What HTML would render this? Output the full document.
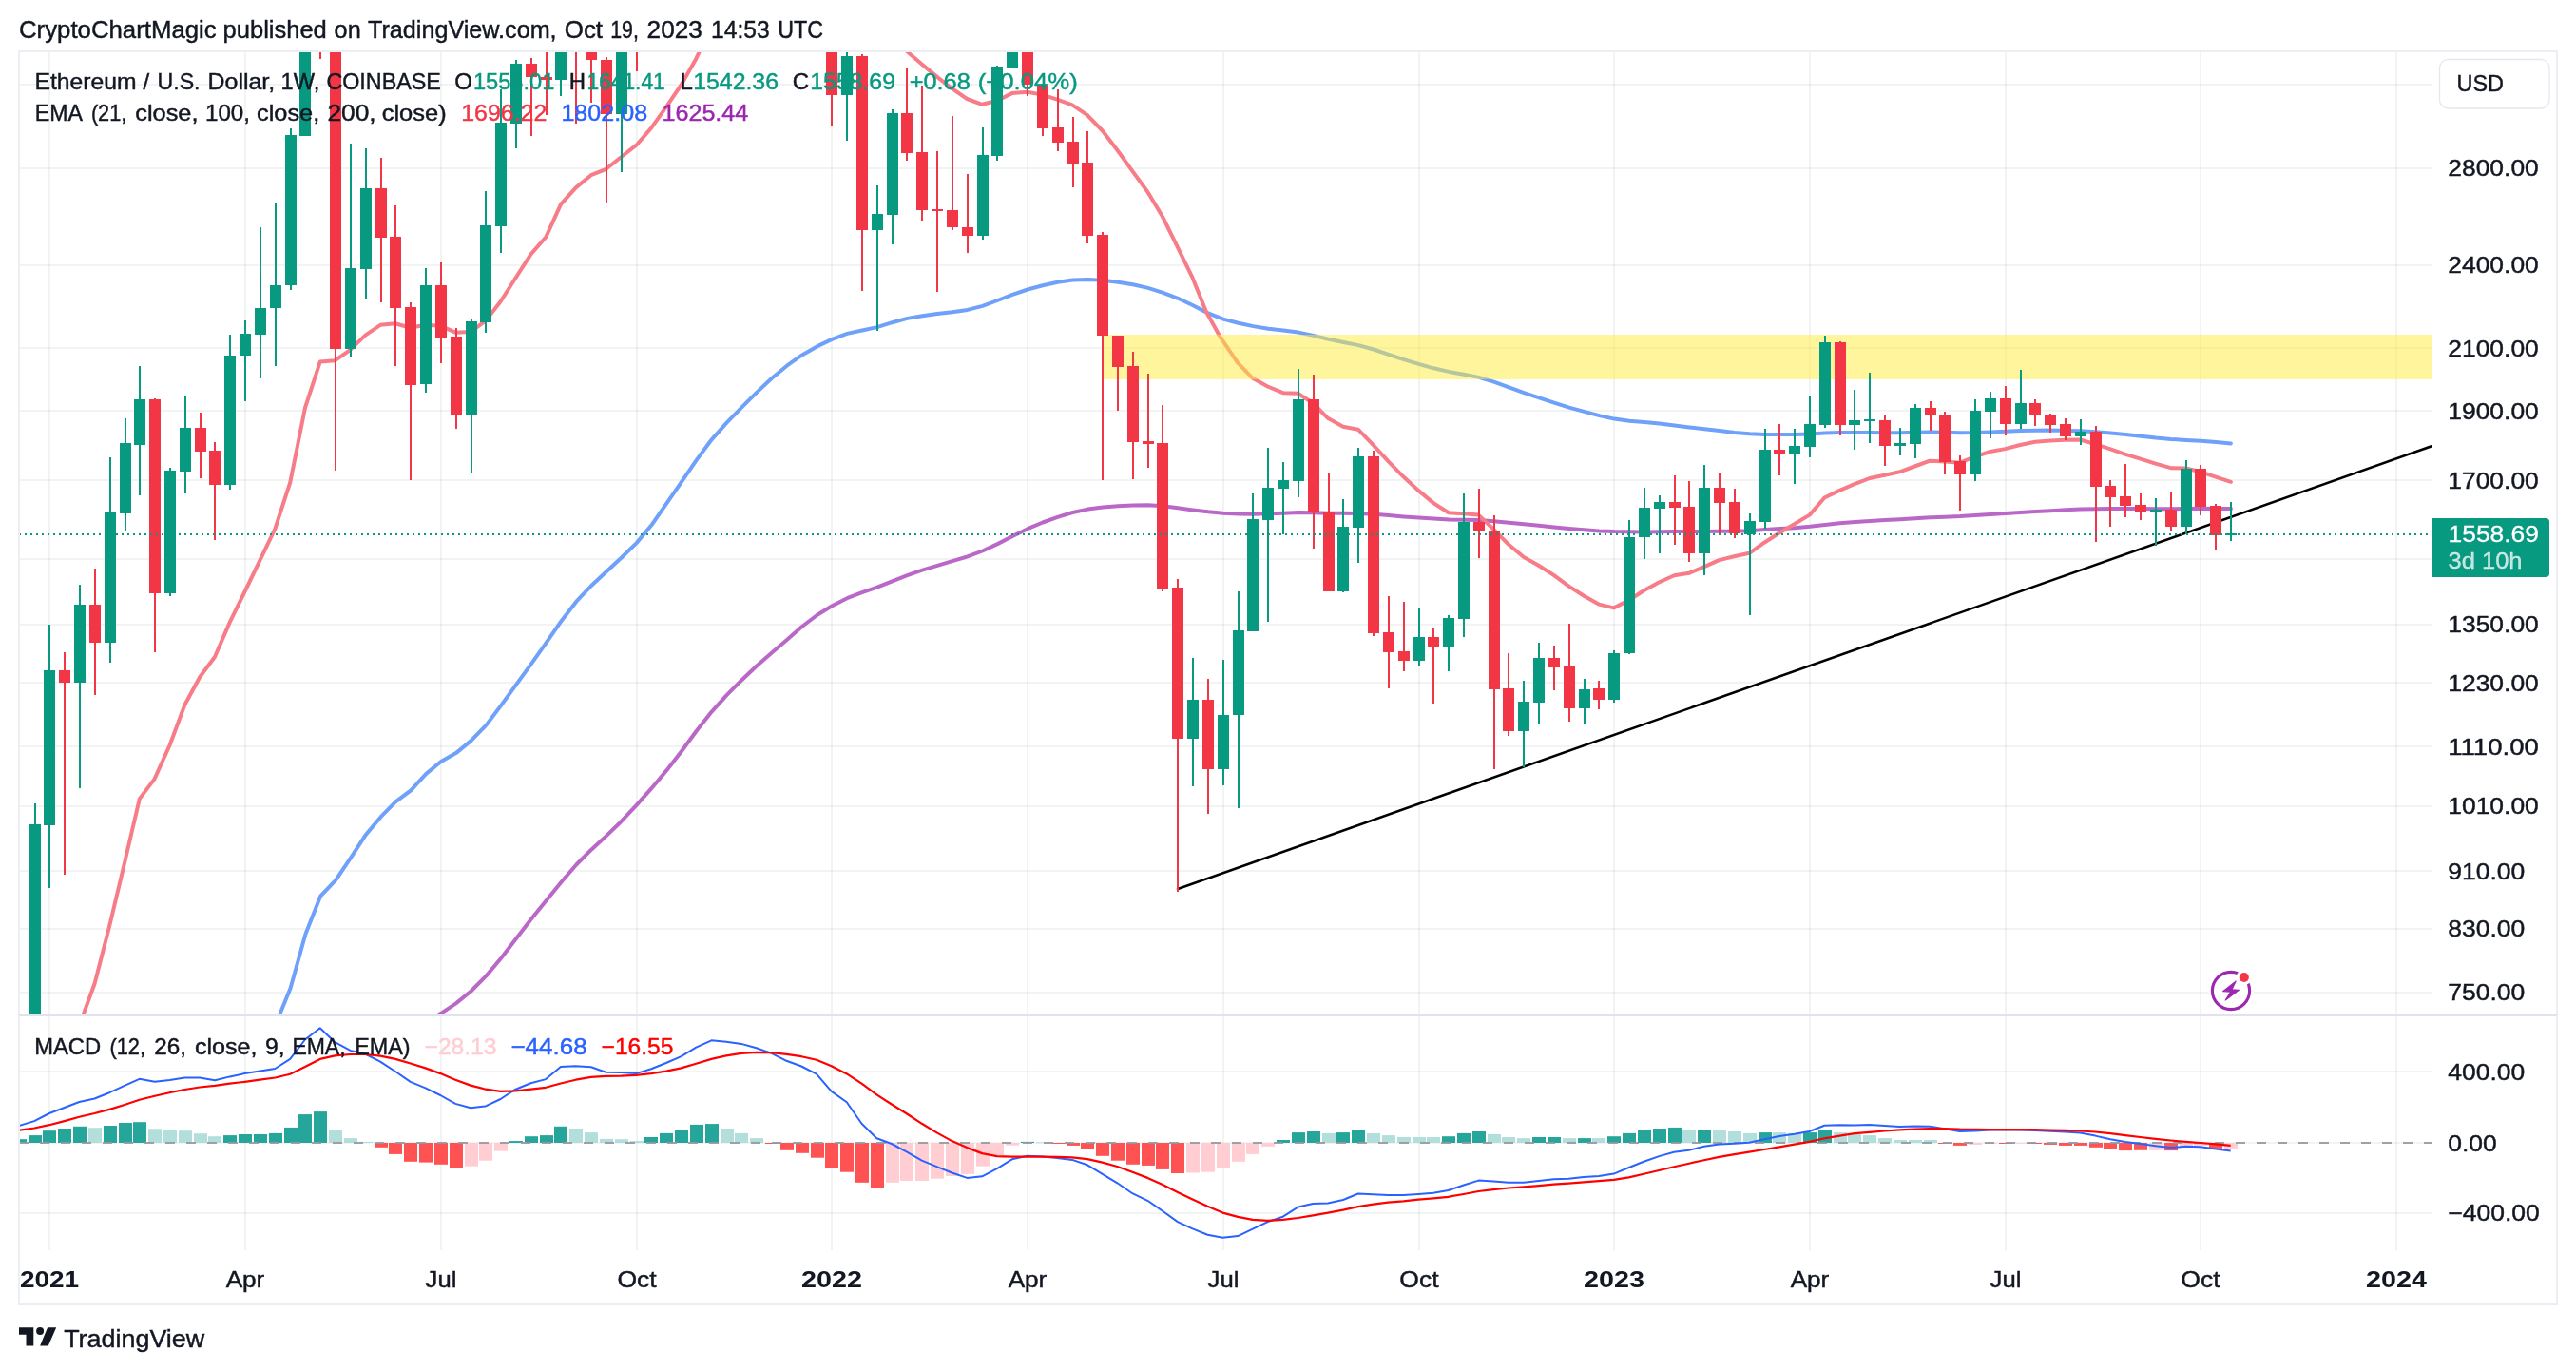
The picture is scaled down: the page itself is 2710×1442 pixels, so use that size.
<!DOCTYPE html><html><head><meta charset="utf-8"><title>ETHUSD</title><style>html,body{margin:0;padding:0;background:#fff}body{width:2710px;height:1442px;overflow:hidden}svg{will-change:transform}</style></head><body><svg width="2710" height="1442" viewBox="0 0 2710 1442" style="display:block;font-family:'Liberation Sans',sans-serif">
<rect width="2710" height="1442" fill="#fff"/>
<defs>
<clipPath id="cm"><rect x="21" y="55" width="2537" height="1012"/></clipPath>
<clipPath id="cd"><rect x="21" y="1069" width="2537" height="246"/></clipPath>
</defs>
<path d="M52 54V1315M258 54V1315M464 54V1315M670 54V1315M875 54V1315M1081 54V1315M1287 54V1315M1493 54V1315M1698 54V1315M1904 54V1315M2110 54V1315M2315 54V1315M2521 54V1315" stroke="#2A2E39" stroke-opacity="0.06" stroke-width="2" fill="none"/>
<path d="M20 89H2558M20 177H2558M20 279H2558M20 366H2558M20 432H2558M20 505H2558M20 588H2558M20 657H2558M20 718H2558M20 785H2558M20 848H2558M20 916H2558M20 977H2558M20 1044H2558M20 1127H2558M20 1202H2558M20 1276H2558" stroke="#2A2E39" stroke-opacity="0.06" stroke-width="2" fill="none"/>
<g clip-path="url(#cm)">
<polyline points="461.1,1067.4 463.9,1065.8 479.7,1055.4 495.5,1042.5 511.3,1026.6 527.2,1007.8 543.0,987.2 558.8,966.8 574.6,947.2 590.5,927.7 606.3,909.5 622.1,893.7 637.9,879.1 653.8,863.7 669.6,846.9 685.4,829.2 701.2,810.4 717.1,790.0 732.9,768.5 748.7,748.6 764.5,731.2 780.4,715.2 796.2,700.2 812.0,686.4 827.8,673.0 843.7,659.0 859.5,647.0 875.3,637.3 891.2,629.2 907.0,623.1 922.8,617.6 938.6,611.3 954.5,605.1 970.3,599.7 986.1,594.9 1001.9,590.2 1017.8,585.4 1033.6,579.5 1049.4,572.1 1065.2,564.0 1081.1,556.2 1096.9,549.5 1112.7,543.8 1128.5,539.0 1144.4,535.6 1160.2,533.5 1176.0,532.3 1191.8,531.5 1207.7,531.3 1223.5,532.3 1239.3,534.3 1255.1,536.4 1271.0,538.3 1286.8,539.7 1302.6,540.5 1318.4,540.7 1334.3,540.3 1350.1,539.7 1365.9,539.1 1381.7,539.3 1397.6,539.7 1413.4,539.8 1429.2,539.9 1445.0,540.7 1460.9,542.1 1476.7,543.4 1492.5,544.6 1508.3,545.6 1524.2,546.4 1540.0,546.7 1555.8,547.1 1571.6,548.2 1587.5,549.7 1603.3,551.3 1619.1,552.8 1635.0,554.4 1650.8,555.9 1666.6,557.3 1682.4,558.5 1698.3,559.1 1714.1,559.3 1729.9,559.4 1745.7,559.3 1761.6,559.1 1777.4,559.1 1793.2,559.0 1809.0,558.8 1824.9,558.7 1840.7,558.2 1856.5,557.1 1872.3,556.1 1888.2,555.2 1904.0,553.8 1919.8,552.0 1935.6,550.3 1951.5,549.1 1967.3,548.0 1983.1,547.1 1998.9,546.2 2014.8,545.2 2030.6,544.3 2046.4,543.7 2062.2,543.1 2078.1,542.1 2093.9,541.0 2109.7,540.0 2125.5,539.0 2141.4,538.0 2157.2,537.2 2173.0,536.3 2188.8,535.6 2204.7,535.2 2220.5,535.1 2236.3,535.1 2252.1,535.1 2268.0,535.2 2283.8,535.2 2299.6,534.9 2315.4,534.7 2331.3,534.9 2346.9,535.1" fill="none" stroke="#BA68C8" stroke-width="4" stroke-linejoin="round" stroke-linecap="round"/>
<polyline points="294.1,1067.4 305.6,1039.2 321.4,982.5 337.3,942.3 353.1,925.9 368.9,902.4 384.7,878.1 400.6,859.2 416.4,843.2 432.2,831.3 448.0,814.1 463.9,801.0 479.7,792.1 495.5,779.1 511.3,762.9 527.2,741.9 543.0,720.1 558.8,698.3 574.6,676.2 590.5,653.2 606.3,632.7 622.1,616.0 637.9,601.3 653.8,586.5 669.6,571.1 685.4,552.3 701.2,529.7 717.1,506.7 732.9,483.6 748.7,462.3 764.5,444.6 780.4,428.4 796.2,412.6 812.0,397.8 827.8,384.7 843.7,373.4 859.5,364.4 875.3,356.9 891.2,350.9 907.0,347.5 922.8,344.1 938.6,339.2 954.5,334.9 970.3,332.2 986.1,330.1 1001.9,328.2 1017.8,325.9 1033.6,321.9 1049.4,316.0 1065.2,309.8 1081.1,304.5 1096.9,300.2 1112.7,296.8 1128.5,294.6 1144.4,293.9 1160.2,294.8 1176.0,296.7 1191.8,299.3 1207.7,302.9 1223.5,307.8 1239.3,313.8 1255.1,321.3 1271.0,329.4 1286.8,335.6 1302.6,339.8 1318.4,343.1 1334.3,345.7 1350.1,347.6 1365.9,349.6 1381.7,352.9 1397.6,356.8 1413.4,360.0 1429.2,363.1 1445.0,367.5 1460.9,372.9 1476.7,378.1 1492.5,382.8 1508.3,387.3 1524.2,390.9 1540.0,393.7 1555.8,396.9 1571.6,401.6 1587.5,407.4 1603.3,413.1 1619.1,418.4 1635.0,423.6 1650.8,428.6 1666.6,432.9 1682.4,437.1 1698.3,440.6 1714.1,442.7 1729.9,444.1 1745.7,445.6 1761.6,447.5 1777.4,449.5 1793.2,451.2 1809.0,453.0 1824.9,454.9 1840.7,456.3 1856.5,456.9 1872.3,457.1 1888.2,456.9 1904.0,456.4 1919.8,455.6 1935.6,455.0 1951.5,454.9 1967.3,455.0 1983.1,455.2 1998.9,455.2 2014.8,454.8 2030.6,454.5 2046.4,454.8 2062.2,455.2 2078.1,455.0 2093.9,454.4 2109.7,453.7 2125.5,453.1 2141.4,452.7 2157.2,452.6 2173.0,452.9 2188.8,453.3 2204.7,454.2 2220.5,455.5 2236.3,457.0 2252.1,458.7 2268.0,460.5 2283.8,461.9 2299.6,462.9 2315.4,463.8 2331.3,465.1 2346.9,466.6" fill="none" stroke="#6FA1FA" stroke-width="4" stroke-linejoin="round" stroke-linecap="round"/>
<polyline points="87.5,1067.4 99.5,1034.8 115.3,973.5 131.0,907.8 146.8,840.1 162.5,819.4 178.6,783.8 194.3,741.5 210.1,712.3 225.9,691.0 241.9,654.1 257.7,622.0 273.4,589.3 289.2,556.6 305.2,507.6 321.0,428.8 336.7,380.6 352.5,379.2 368.3,368.1 384.3,352.6 400.1,341.8 415.8,340.3 431.6,344.7 447.6,341.8 463.4,342.7 479.1,349.7 495.2,349.1 510.9,337.4 526.7,317.0 542.5,292.2 558.5,267.4 574.3,249.3 590.0,214.9 605.8,197.4 621.8,184.2 637.6,177.8 653.3,165.3 669.4,152.7 685.1,134.6 700.8,112.7 716.5,89.4 732.3,61.7 740.5,44.2" fill="none" stroke="#F77C87" stroke-width="4" stroke-linejoin="round" stroke-linecap="round"/>
<polyline points="947.6,44.2 954.1,54.1 969.8,67.5 985.6,80.6 1001.6,93.2 1017.4,104.0 1033.1,109.8 1048.9,106.0 1064.6,98.1 1080.7,96.7 1096.5,99.6 1112.2,104.6 1128.0,110.4 1143.7,120.9 1159.8,137.5 1175.5,158.0 1191.3,179.9 1207.3,201.7 1223.1,228.0 1238.9,260.1 1254.6,292.2 1268.9,327.7 1283.4,354.0 1302.1,381.7 1317.9,397.8 1333.6,406.5 1349.7,413.2 1365.4,413.8 1381.2,424.0 1397.2,440.1 1413.0,448.8 1428.8,451.7 1444.5,467.8 1460.6,485.3 1476.3,501.3 1492.1,515.9 1508.1,529.1 1523.9,539.3 1539.6,540.2 1555.4,541.6 1571.4,556.8 1587.2,572.8 1603.0,586.0 1618.7,594.7 1634.5,604.9 1650.5,616.6 1666.3,626.8 1682.0,635.6 1697.8,639.4 1713.8,631.2 1729.6,621.0 1745.2,612.5 1761.3,605.2 1777.0,602.8 1792.8,596.1 1808.5,589.1 1824.3,585.3 1840.4,581.8 1856.1,570.7 1871.9,560.5 1887.6,551.2 1903.7,541.6 1919.4,523.5 1935.2,515.9 1950.9,509.2 1967.0,503.0 1982.8,499.8 1998.5,496.3 2014.3,490.5 2030.3,484.7 2046.1,485.5 2061.8,486.7 2077.6,480.3 2093.6,475.0 2109.4,472.1 2125.2,468.0 2140.9,464.8 2157.0,463.4 2172.7,462.8 2188.5,462.5 2204.2,467.1 2220.3,472.4 2236.0,477.9 2251.8,482.6 2267.6,487.6 2283.6,492.2 2299.4,492.5 2315.1,496.3 2330.9,501.6 2346.9,506.8" fill="none" stroke="#F77C87" stroke-width="4" stroke-linejoin="round" stroke-linecap="round"/>
<rect x="1160" y="352" width="1398" height="47" fill="#FFEB3B" fill-opacity="0.5"/>
<path d="M1239 935L2558 469.3" stroke="#000" stroke-width="2.5" stroke-linecap="round"/>
<rect x="36" y="845" width="2" height="255" fill="#089981"/><rect x="31" y="867" width="12" height="233" fill="#089981"/>
<rect x="51" y="657" width="2" height="277" fill="#089981"/><rect x="46" y="705" width="12" height="163" fill="#089981"/>
<rect x="67" y="686" width="2" height="234" fill="#F23645"/><rect x="62" y="705" width="12" height="13" fill="#F23645"/>
<rect x="83" y="615" width="2" height="214" fill="#089981"/><rect x="78" y="636" width="12" height="82" fill="#089981"/>
<rect x="99" y="598" width="2" height="133" fill="#F23645"/><rect x="94" y="636" width="12" height="40" fill="#F23645"/>
<rect x="115" y="481" width="2" height="216" fill="#089981"/><rect x="110" y="539" width="12" height="137" fill="#089981"/>
<rect x="131" y="440" width="2" height="119" fill="#089981"/><rect x="126" y="466" width="12" height="74" fill="#089981"/>
<rect x="146" y="385" width="2" height="136" fill="#089981"/><rect x="141" y="420" width="12" height="48" fill="#089981"/>
<rect x="162" y="419" width="2" height="267" fill="#F23645"/><rect x="157" y="420" width="12" height="204" fill="#F23645"/>
<rect x="178" y="492" width="2" height="135" fill="#089981"/><rect x="173" y="495" width="12" height="129" fill="#089981"/>
<rect x="194" y="417" width="2" height="102" fill="#089981"/><rect x="189" y="450" width="12" height="46" fill="#089981"/>
<rect x="210" y="434" width="2" height="69" fill="#F23645"/><rect x="205" y="450" width="12" height="25" fill="#F23645"/>
<rect x="225" y="465" width="2" height="103" fill="#F23645"/><rect x="220" y="474" width="12" height="36" fill="#F23645"/>
<rect x="241" y="352" width="2" height="163" fill="#089981"/><rect x="236" y="374" width="12" height="136" fill="#089981"/>
<rect x="257" y="337" width="2" height="85" fill="#089981"/><rect x="252" y="351" width="12" height="23" fill="#089981"/>
<rect x="273" y="239" width="2" height="159" fill="#089981"/><rect x="268" y="324" width="12" height="28" fill="#089981"/>
<rect x="289" y="214" width="2" height="171" fill="#089981"/><rect x="284" y="300" width="12" height="24" fill="#089981"/>
<rect x="305" y="135" width="2" height="170" fill="#089981"/><rect x="300" y="142" width="12" height="158" fill="#089981"/>
<rect x="320" y="30" width="2" height="113" fill="#089981"/><rect x="315" y="30" width="12" height="113" fill="#089981"/>
<rect x="336" y="30" width="2" height="32" fill="#F23645"/><rect x="331" y="30" width="12" height="2" fill="#F23645"/>
<rect x="352" y="30" width="2" height="465" fill="#F23645"/><rect x="347" y="30" width="12" height="337" fill="#F23645"/>
<rect x="368" y="151" width="2" height="224" fill="#089981"/><rect x="363" y="282" width="12" height="85" fill="#089981"/>
<rect x="384" y="156" width="2" height="158" fill="#089981"/><rect x="379" y="198" width="12" height="85" fill="#089981"/>
<rect x="400" y="166" width="2" height="152" fill="#F23645"/><rect x="395" y="198" width="12" height="52" fill="#F23645"/>
<rect x="415" y="216" width="2" height="169" fill="#F23645"/><rect x="410" y="249" width="12" height="75" fill="#F23645"/>
<rect x="431" y="318" width="2" height="187" fill="#F23645"/><rect x="426" y="323" width="12" height="82" fill="#F23645"/>
<rect x="447" y="282" width="2" height="131" fill="#089981"/><rect x="442" y="300" width="12" height="104" fill="#089981"/>
<rect x="463" y="276" width="2" height="106" fill="#F23645"/><rect x="458" y="300" width="12" height="55" fill="#F23645"/>
<rect x="479" y="345" width="2" height="106" fill="#F23645"/><rect x="474" y="354" width="12" height="82" fill="#F23645"/>
<rect x="495" y="336" width="2" height="162" fill="#089981"/><rect x="490" y="338" width="12" height="98" fill="#089981"/>
<rect x="510" y="201" width="2" height="149" fill="#089981"/><rect x="505" y="237" width="12" height="102" fill="#089981"/>
<rect x="526" y="94" width="2" height="172" fill="#089981"/><rect x="521" y="129" width="12" height="109" fill="#089981"/>
<rect x="542" y="63" width="2" height="93" fill="#089981"/><rect x="537" y="67" width="12" height="63" fill="#089981"/>
<rect x="558" y="61" width="2" height="82" fill="#F23645"/><rect x="553" y="67" width="12" height="14" fill="#F23645"/>
<rect x="574" y="30" width="2" height="91" fill="#F23645"/><rect x="569" y="81" width="12" height="3" fill="#F23645"/>
<rect x="589" y="30" width="2" height="71" fill="#089981"/><rect x="584" y="30" width="12" height="54" fill="#089981"/>
<rect x="605" y="30" width="2" height="100" fill="#F23645"/><rect x="600" y="30" width="12" height="2" fill="#F23645"/>
<rect x="621" y="30" width="2" height="78" fill="#F23645"/><rect x="616" y="30" width="12" height="33" fill="#F23645"/>
<rect x="637" y="60" width="2" height="153" fill="#F23645"/><rect x="632" y="63" width="12" height="57" fill="#F23645"/>
<rect x="653" y="30" width="2" height="151" fill="#089981"/><rect x="648" y="30" width="12" height="90" fill="#089981"/>
<rect x="669" y="30" width="2" height="45" fill="#F23645"/><rect x="664" y="30" width="12" height="2" fill="#F23645"/>
<rect x="684" y="30" width="2" height="24" fill="#089981"/><rect x="679" y="30" width="12" height="2" fill="#089981"/>
<rect x="874" y="30" width="2" height="102" fill="#F23645"/><rect x="869" y="30" width="12" height="70" fill="#F23645"/>
<rect x="890" y="30" width="2" height="118" fill="#089981"/><rect x="885" y="59" width="12" height="41" fill="#089981"/>
<rect x="906" y="57" width="2" height="249" fill="#F23645"/><rect x="901" y="59" width="12" height="183" fill="#F23645"/>
<rect x="922" y="195" width="2" height="153" fill="#089981"/><rect x="917" y="225" width="12" height="17" fill="#089981"/>
<rect x="938" y="115" width="2" height="142" fill="#089981"/><rect x="933" y="119" width="12" height="107" fill="#089981"/>
<rect x="953" y="72" width="2" height="97" fill="#F23645"/><rect x="948" y="119" width="12" height="42" fill="#F23645"/>
<rect x="969" y="90" width="2" height="142" fill="#F23645"/><rect x="964" y="160" width="12" height="61" fill="#F23645"/>
<rect x="985" y="159" width="2" height="148" fill="#F23645"/><rect x="980" y="220" width="12" height="2" fill="#F23645"/>
<rect x="1001" y="122" width="2" height="120" fill="#F23645"/><rect x="996" y="221" width="12" height="18" fill="#F23645"/>
<rect x="1017" y="183" width="2" height="83" fill="#F23645"/><rect x="1012" y="239" width="12" height="9" fill="#F23645"/>
<rect x="1033" y="134" width="2" height="118" fill="#089981"/><rect x="1028" y="163" width="12" height="85" fill="#089981"/>
<rect x="1048" y="69" width="2" height="100" fill="#089981"/><rect x="1043" y="70" width="12" height="94" fill="#089981"/>
<rect x="1064" y="30" width="2" height="41" fill="#089981"/><rect x="1059" y="30" width="12" height="41" fill="#089981"/>
<rect x="1080" y="30" width="2" height="71" fill="#F23645"/><rect x="1075" y="30" width="12" height="59" fill="#F23645"/>
<rect x="1096" y="88" width="2" height="55" fill="#F23645"/><rect x="1091" y="90" width="12" height="45" fill="#F23645"/>
<rect x="1112" y="94" width="2" height="65" fill="#F23645"/><rect x="1107" y="134" width="12" height="16" fill="#F23645"/>
<rect x="1128" y="123" width="2" height="74" fill="#F23645"/><rect x="1123" y="149" width="12" height="23" fill="#F23645"/>
<rect x="1143" y="138" width="2" height="118" fill="#F23645"/><rect x="1138" y="171" width="12" height="77" fill="#F23645"/>
<rect x="1159" y="244" width="2" height="261" fill="#F23645"/><rect x="1154" y="247" width="12" height="106" fill="#F23645"/>
<rect x="1175" y="353" width="2" height="79" fill="#F23645"/><rect x="1170" y="353" width="12" height="33" fill="#F23645"/>
<rect x="1191" y="370" width="2" height="134" fill="#F23645"/><rect x="1186" y="385" width="12" height="80" fill="#F23645"/>
<rect x="1207" y="393" width="2" height="99" fill="#F23645"/><rect x="1202" y="464" width="12" height="3" fill="#F23645"/>
<rect x="1222" y="426" width="2" height="196" fill="#F23645"/><rect x="1217" y="466" width="12" height="153" fill="#F23645"/>
<rect x="1238" y="609" width="2" height="329" fill="#F23645"/><rect x="1233" y="618" width="12" height="159" fill="#F23645"/>
<rect x="1254" y="692" width="2" height="135" fill="#089981"/><rect x="1249" y="736" width="12" height="41" fill="#089981"/>
<rect x="1270" y="714" width="2" height="142" fill="#F23645"/><rect x="1265" y="736" width="12" height="73" fill="#F23645"/>
<rect x="1286" y="694" width="2" height="132" fill="#089981"/><rect x="1281" y="752" width="12" height="57" fill="#089981"/>
<rect x="1302" y="622" width="2" height="228" fill="#089981"/><rect x="1297" y="663" width="12" height="89" fill="#089981"/>
<rect x="1317" y="519" width="2" height="145" fill="#089981"/><rect x="1312" y="546" width="12" height="118" fill="#089981"/>
<rect x="1333" y="471" width="2" height="183" fill="#089981"/><rect x="1328" y="513" width="12" height="34" fill="#089981"/>
<rect x="1349" y="486" width="2" height="76" fill="#089981"/><rect x="1344" y="505" width="12" height="9" fill="#089981"/>
<rect x="1365" y="388" width="2" height="135" fill="#089981"/><rect x="1360" y="420" width="12" height="86" fill="#089981"/>
<rect x="1381" y="394" width="2" height="183" fill="#F23645"/><rect x="1376" y="420" width="12" height="119" fill="#F23645"/>
<rect x="1397" y="497" width="2" height="125" fill="#F23645"/><rect x="1392" y="538" width="12" height="84" fill="#F23645"/>
<rect x="1412" y="525" width="2" height="98" fill="#089981"/><rect x="1407" y="554" width="12" height="68" fill="#089981"/>
<rect x="1428" y="471" width="2" height="121" fill="#089981"/><rect x="1423" y="480" width="12" height="75" fill="#089981"/>
<rect x="1444" y="474" width="2" height="195" fill="#F23645"/><rect x="1439" y="480" width="12" height="186" fill="#F23645"/>
<rect x="1460" y="627" width="2" height="97" fill="#F23645"/><rect x="1455" y="665" width="12" height="21" fill="#F23645"/>
<rect x="1476" y="633" width="2" height="73" fill="#F23645"/><rect x="1471" y="685" width="12" height="10" fill="#F23645"/>
<rect x="1492" y="640" width="2" height="61" fill="#089981"/><rect x="1487" y="670" width="12" height="25" fill="#089981"/>
<rect x="1507" y="660" width="2" height="80" fill="#F23645"/><rect x="1502" y="670" width="12" height="10" fill="#F23645"/>
<rect x="1523" y="647" width="2" height="59" fill="#089981"/><rect x="1518" y="650" width="12" height="30" fill="#089981"/>
<rect x="1539" y="519" width="2" height="151" fill="#089981"/><rect x="1534" y="549" width="12" height="102" fill="#089981"/>
<rect x="1555" y="514" width="2" height="73" fill="#F23645"/><rect x="1550" y="549" width="12" height="10" fill="#F23645"/>
<rect x="1571" y="542" width="2" height="267" fill="#F23645"/><rect x="1566" y="558" width="12" height="167" fill="#F23645"/>
<rect x="1586" y="687" width="2" height="87" fill="#F23645"/><rect x="1581" y="724" width="12" height="45" fill="#F23645"/>
<rect x="1602" y="716" width="2" height="91" fill="#089981"/><rect x="1597" y="738" width="12" height="31" fill="#089981"/>
<rect x="1618" y="676" width="2" height="86" fill="#089981"/><rect x="1613" y="692" width="12" height="47" fill="#089981"/>
<rect x="1634" y="679" width="2" height="47" fill="#F23645"/><rect x="1629" y="692" width="12" height="10" fill="#F23645"/>
<rect x="1650" y="656" width="2" height="103" fill="#F23645"/><rect x="1645" y="701" width="12" height="44" fill="#F23645"/>
<rect x="1666" y="714" width="2" height="48" fill="#089981"/><rect x="1661" y="725" width="12" height="20" fill="#089981"/>
<rect x="1681" y="716" width="2" height="30" fill="#F23645"/><rect x="1676" y="724" width="12" height="12" fill="#F23645"/>
<rect x="1697" y="684" width="2" height="55" fill="#089981"/><rect x="1692" y="687" width="12" height="49" fill="#089981"/>
<rect x="1713" y="547" width="2" height="141" fill="#089981"/><rect x="1708" y="565" width="12" height="122" fill="#089981"/>
<rect x="1729" y="513" width="2" height="75" fill="#089981"/><rect x="1724" y="534" width="12" height="31" fill="#089981"/>
<rect x="1745" y="521" width="2" height="61" fill="#089981"/><rect x="1740" y="528" width="12" height="7" fill="#089981"/>
<rect x="1761" y="500" width="2" height="73" fill="#F23645"/><rect x="1756" y="528" width="12" height="6" fill="#F23645"/>
<rect x="1776" y="506" width="2" height="85" fill="#F23645"/><rect x="1771" y="533" width="12" height="49" fill="#F23645"/>
<rect x="1792" y="489" width="2" height="116" fill="#089981"/><rect x="1787" y="513" width="12" height="69" fill="#089981"/>
<rect x="1808" y="498" width="2" height="64" fill="#F23645"/><rect x="1803" y="513" width="12" height="16" fill="#F23645"/>
<rect x="1824" y="514" width="2" height="52" fill="#F23645"/><rect x="1819" y="528" width="12" height="33" fill="#F23645"/>
<rect x="1840" y="540" width="2" height="107" fill="#089981"/><rect x="1835" y="548" width="12" height="14" fill="#089981"/>
<rect x="1856" y="451" width="2" height="105" fill="#089981"/><rect x="1851" y="473" width="12" height="76" fill="#089981"/>
<rect x="1871" y="446" width="2" height="54" fill="#F23645"/><rect x="1866" y="473" width="12" height="5" fill="#F23645"/>
<rect x="1887" y="451" width="2" height="58" fill="#089981"/><rect x="1882" y="469" width="12" height="9" fill="#089981"/>
<rect x="1903" y="417" width="2" height="64" fill="#089981"/><rect x="1898" y="446" width="12" height="24" fill="#089981"/>
<rect x="1919" y="353" width="2" height="97" fill="#089981"/><rect x="1914" y="360" width="12" height="87" fill="#089981"/>
<rect x="1935" y="359" width="2" height="99" fill="#F23645"/><rect x="1930" y="360" width="12" height="87" fill="#F23645"/>
<rect x="1950" y="410" width="2" height="63" fill="#089981"/><rect x="1945" y="442" width="12" height="5" fill="#089981"/>
<rect x="1966" y="392" width="2" height="74" fill="#089981"/><rect x="1961" y="441" width="12" height="2" fill="#089981"/>
<rect x="1982" y="437" width="2" height="53" fill="#F23645"/><rect x="1977" y="442" width="12" height="27" fill="#F23645"/>
<rect x="1998" y="450" width="2" height="29" fill="#089981"/><rect x="1993" y="466" width="12" height="3" fill="#089981"/>
<rect x="2014" y="425" width="2" height="57" fill="#089981"/><rect x="2009" y="429" width="12" height="38" fill="#089981"/>
<rect x="2030" y="422" width="2" height="31" fill="#F23645"/><rect x="2025" y="429" width="12" height="8" fill="#F23645"/>
<rect x="2045" y="433" width="2" height="66" fill="#F23645"/><rect x="2040" y="436" width="12" height="50" fill="#F23645"/>
<rect x="2061" y="479" width="2" height="58" fill="#F23645"/><rect x="2056" y="485" width="12" height="14" fill="#F23645"/>
<rect x="2077" y="420" width="2" height="86" fill="#089981"/><rect x="2072" y="432" width="12" height="67" fill="#089981"/>
<rect x="2093" y="412" width="2" height="49" fill="#089981"/><rect x="2088" y="419" width="12" height="14" fill="#089981"/>
<rect x="2109" y="406" width="2" height="52" fill="#F23645"/><rect x="2104" y="419" width="12" height="27" fill="#F23645"/>
<rect x="2125" y="389" width="2" height="62" fill="#089981"/><rect x="2120" y="424" width="12" height="22" fill="#089981"/>
<rect x="2140" y="420" width="2" height="28" fill="#F23645"/><rect x="2135" y="424" width="12" height="13" fill="#F23645"/>
<rect x="2156" y="435" width="2" height="20" fill="#F23645"/><rect x="2151" y="436" width="12" height="11" fill="#F23645"/>
<rect x="2172" y="440" width="2" height="23" fill="#F23645"/><rect x="2167" y="446" width="12" height="13" fill="#F23645"/>
<rect x="2188" y="441" width="2" height="27" fill="#089981"/><rect x="2183" y="454" width="12" height="5" fill="#089981"/>
<rect x="2204" y="448" width="2" height="122" fill="#F23645"/><rect x="2199" y="454" width="12" height="58" fill="#F23645"/>
<rect x="2219" y="505" width="2" height="49" fill="#F23645"/><rect x="2214" y="511" width="12" height="12" fill="#F23645"/>
<rect x="2235" y="488" width="2" height="56" fill="#F23645"/><rect x="2230" y="522" width="12" height="10" fill="#F23645"/>
<rect x="2251" y="519" width="2" height="28" fill="#F23645"/><rect x="2246" y="531" width="12" height="8" fill="#F23645"/>
<rect x="2267" y="524" width="2" height="50" fill="#089981"/><rect x="2262" y="536" width="12" height="3" fill="#089981"/>
<rect x="2283" y="517" width="2" height="41" fill="#F23645"/><rect x="2278" y="536" width="12" height="18" fill="#F23645"/>
<rect x="2299" y="484" width="2" height="78" fill="#089981"/><rect x="2294" y="493" width="12" height="61" fill="#089981"/>
<rect x="2314" y="489" width="2" height="53" fill="#F23645"/><rect x="2309" y="493" width="12" height="40" fill="#F23645"/>
<rect x="2330" y="530" width="2" height="49" fill="#F23645"/><rect x="2325" y="532" width="12" height="31" fill="#F23645"/>
<rect x="2346" y="528" width="2" height="41" fill="#089981"/><rect x="2341" y="561" width="12" height="2" fill="#089981"/>
<path d="M20 562H2558" stroke="#089981" stroke-width="2" stroke-dasharray="2 4" fill="none"/>
<circle cx="2347" cy="1042" r="23.5" fill="#fff"/>
<circle cx="2347" cy="1042" r="19.6" fill="none" stroke="#9C27B0" stroke-width="3.1"/>
<circle cx="2360.8" cy="1028" r="8.3" fill="#fff"/>
<circle cx="2360.8" cy="1028" r="5.1" fill="#F23645"/>
<path d="M2352.1 1032.1L2338.6 1042.6L2346.8 1043.1L2341.2 1052.0L2355.4 1041.3L2348.0 1040.8Z" fill="#9C27B0" stroke="#9C27B0" stroke-width="1.2" stroke-linejoin="round"/>
<text x="36.5" y="93.8" font-size="24" fill="#131722" textLength="107.0" lengthAdjust="spacingAndGlyphs" stroke="#131722" stroke-width="0.45">Ethereum</text>
<text x="150.4" y="93.8" font-size="24" fill="#131722" stroke="#131722" stroke-width="0.45">/</text>
<text x="165.5" y="93.8" font-size="24" fill="#131722" textLength="45.0" lengthAdjust="spacingAndGlyphs" stroke="#131722" stroke-width="0.45">U.S.</text>
<text x="218.6" y="93.8" font-size="24" fill="#131722" textLength="70.5" lengthAdjust="spacingAndGlyphs" stroke="#131722" stroke-width="0.45">Dollar,</text>
<text x="295.5" y="93.8" font-size="24" fill="#131722" textLength="40.7" lengthAdjust="spacingAndGlyphs" stroke="#131722" stroke-width="0.45">1W,</text>
<text x="343.4" y="93.8" font-size="24" fill="#131722" textLength="120.4" lengthAdjust="spacingAndGlyphs" stroke="#131722" stroke-width="0.45">COINBASE</text>
<text x="478.2" y="93.8" font-size="24" fill="#131722" stroke="#131722" stroke-width="0.45">O</text>
<text x="498.0" y="93.8" font-size="24" fill="#089981" textLength="85.3" lengthAdjust="spacingAndGlyphs" stroke="#089981" stroke-width="0.45">1553.01</text>
<text x="598.7" y="93.8" font-size="24" fill="#131722" stroke="#131722" stroke-width="0.45">H</text>
<text x="617.4" y="93.8" font-size="24" fill="#089981" textLength="82.4" lengthAdjust="spacingAndGlyphs" stroke="#089981" stroke-width="0.45">1641.41</text>
<text x="715.4" y="93.8" font-size="24" fill="#131722" stroke="#131722" stroke-width="0.45">L</text>
<text x="729.2" y="93.8" font-size="24" fill="#089981" textLength="89.8" lengthAdjust="spacingAndGlyphs" stroke="#089981" stroke-width="0.45">1542.36</text>
<text x="833.7" y="93.8" font-size="24" fill="#131722" stroke="#131722" stroke-width="0.45">C</text>
<text x="852.2" y="93.8" font-size="24" fill="#089981" textLength="89.8" lengthAdjust="spacingAndGlyphs" stroke="#089981" stroke-width="0.45">1558.69</text>
<text x="956.7" y="93.8" font-size="24" fill="#089981" textLength="64.1" lengthAdjust="spacingAndGlyphs" stroke="#089981" stroke-width="0.45">+0.68</text>
<text x="1028.7" y="93.8" font-size="24" fill="#089981" textLength="105.1" lengthAdjust="spacingAndGlyphs" stroke="#089981" stroke-width="0.45">(+0.04%)</text>
<text x="36.7" y="127.4" font-size="24" fill="#131722" textLength="50.2" lengthAdjust="spacingAndGlyphs" stroke="#131722" stroke-width="0.45">EMA</text>
<text x="95.9" y="127.4" font-size="24" fill="#131722" textLength="37.4" lengthAdjust="spacingAndGlyphs" stroke="#131722" stroke-width="0.45">(21,</text>
<text x="142.3" y="127.4" font-size="24" fill="#131722" textLength="66.2" lengthAdjust="spacingAndGlyphs" stroke="#131722" stroke-width="0.45">close,</text>
<text x="216.0" y="127.4" font-size="24" fill="#131722" textLength="47.0" lengthAdjust="spacingAndGlyphs" stroke="#131722" stroke-width="0.45">100,</text>
<text x="270.0" y="127.4" font-size="24" fill="#131722" textLength="66.2" lengthAdjust="spacingAndGlyphs" stroke="#131722" stroke-width="0.45">close,</text>
<text x="344.4" y="127.4" font-size="24" fill="#131722" textLength="51.2" lengthAdjust="spacingAndGlyphs" stroke="#131722" stroke-width="0.45">200,</text>
<text x="401.7" y="127.4" font-size="24" fill="#131722" textLength="68.0" lengthAdjust="spacingAndGlyphs" stroke="#131722" stroke-width="0.45">close)</text>
<text x="485.2" y="127.4" font-size="24" fill="#F23645" textLength="90.1" lengthAdjust="spacingAndGlyphs" stroke="#F23645" stroke-width="0.45">1696.22</text>
<text x="590.4" y="127.4" font-size="24" fill="#2962FF" textLength="90.7" lengthAdjust="spacingAndGlyphs" stroke="#2962FF" stroke-width="0.45">1802.08</text>
<text x="696.5" y="127.4" font-size="24" fill="#9C27B0" textLength="90.8" lengthAdjust="spacingAndGlyphs" stroke="#9C27B0" stroke-width="0.45">1625.44</text>
</g>
<g clip-path="url(#cd)">
<rect x="14" y="1198.2" width="14" height="3.8" fill="#26A69A"/>
<rect x="30" y="1194.1" width="14" height="7.9" fill="#26A69A"/>
<rect x="45" y="1189.2" width="14" height="12.8" fill="#26A69A"/>
<rect x="61" y="1187.0" width="14" height="15.0" fill="#26A69A"/>
<rect x="77" y="1184.8" width="14" height="17.2" fill="#26A69A"/>
<rect x="93" y="1186.2" width="14" height="15.8" fill="#B2DFDB"/>
<rect x="109" y="1184.0" width="14" height="18.0" fill="#26A69A"/>
<rect x="125" y="1181.0" width="14" height="21.0" fill="#26A69A"/>
<rect x="140" y="1180.2" width="14" height="21.8" fill="#26A69A"/>
<rect x="156" y="1187.3" width="14" height="14.7" fill="#B2DFDB"/>
<rect x="172" y="1188.1" width="14" height="13.9" fill="#B2DFDB"/>
<rect x="188" y="1189.2" width="14" height="12.8" fill="#B2DFDB"/>
<rect x="204" y="1192.2" width="14" height="9.8" fill="#B2DFDB"/>
<rect x="219" y="1195.2" width="14" height="6.8" fill="#B2DFDB"/>
<rect x="235" y="1194.1" width="14" height="7.9" fill="#26A69A"/>
<rect x="251" y="1193.0" width="14" height="9.0" fill="#26A69A"/>
<rect x="267" y="1193.0" width="14" height="9.0" fill="#26A69A"/>
<rect x="283" y="1191.9" width="14" height="10.1" fill="#26A69A"/>
<rect x="299" y="1185.9" width="14" height="16.1" fill="#26A69A"/>
<rect x="314" y="1172.1" width="14" height="29.9" fill="#26A69A"/>
<rect x="330" y="1169.1" width="14" height="32.9" fill="#26A69A"/>
<rect x="346" y="1188.1" width="14" height="13.9" fill="#B2DFDB"/>
<rect x="362" y="1197.1" width="14" height="4.9" fill="#B2DFDB"/>
<rect x="378" y="1200.9" width="14" height="1.1" fill="#B2DFDB"/>
<rect x="394" y="1202.0" width="14" height="4.8" fill="#FF5252"/>
<rect x="409" y="1202.0" width="14" height="11.9" fill="#FF5252"/>
<rect x="425" y="1202.0" width="14" height="19.8" fill="#FF5252"/>
<rect x="441" y="1202.0" width="14" height="20.6" fill="#FF5252"/>
<rect x="457" y="1202.0" width="14" height="22.8" fill="#FF5252"/>
<rect x="473" y="1202.0" width="14" height="26.9" fill="#FF5252"/>
<rect x="489" y="1202.0" width="14" height="24.7" fill="#FFCDD2"/>
<rect x="504" y="1202.0" width="14" height="18.7" fill="#FFCDD2"/>
<rect x="520" y="1202.0" width="14" height="8.7" fill="#FFCDD2"/>
<rect x="536" y="1200.1" width="14" height="1.9" fill="#26A69A"/>
<rect x="552" y="1195.2" width="14" height="6.8" fill="#26A69A"/>
<rect x="568" y="1194.1" width="14" height="7.9" fill="#26A69A"/>
<rect x="583" y="1184.8" width="14" height="17.2" fill="#26A69A"/>
<rect x="599" y="1187.0" width="14" height="15.0" fill="#B2DFDB"/>
<rect x="615" y="1191.1" width="14" height="10.9" fill="#B2DFDB"/>
<rect x="631" y="1197.9" width="14" height="4.1" fill="#B2DFDB"/>
<rect x="647" y="1198.2" width="14" height="3.8" fill="#B2DFDB"/>
<rect x="663" y="1200.1" width="14" height="1.9" fill="#B2DFDB"/>
<rect x="678" y="1196.0" width="14" height="6.0" fill="#26A69A"/>
<rect x="694" y="1191.9" width="14" height="10.1" fill="#26A69A"/>
<rect x="710" y="1188.1" width="14" height="13.9" fill="#26A69A"/>
<rect x="726" y="1182.9" width="14" height="19.1" fill="#26A69A"/>
<rect x="742" y="1182.1" width="14" height="19.9" fill="#26A69A"/>
<rect x="758" y="1187.0" width="14" height="15.0" fill="#B2DFDB"/>
<rect x="773" y="1191.9" width="14" height="10.1" fill="#B2DFDB"/>
<rect x="789" y="1197.1" width="14" height="4.9" fill="#B2DFDB"/>
<rect x="805" y="1202.0" width="14" height="1.0" fill="#FF5252"/>
<rect x="821" y="1202.0" width="14" height="7.8" fill="#FF5252"/>
<rect x="837" y="1202.0" width="14" height="10.8" fill="#FF5252"/>
<rect x="853" y="1202.0" width="14" height="15.7" fill="#FF5252"/>
<rect x="868" y="1202.0" width="14" height="26.9" fill="#FF5252"/>
<rect x="884" y="1202.0" width="14" height="30.7" fill="#FF5252"/>
<rect x="900" y="1202.0" width="14" height="41.8" fill="#FF5252"/>
<rect x="916" y="1202.0" width="14" height="47.0" fill="#FF5252"/>
<rect x="932" y="1202.0" width="14" height="41.8" fill="#FFCDD2"/>
<rect x="947" y="1202.0" width="14" height="39.9" fill="#FFCDD2"/>
<rect x="963" y="1202.0" width="14" height="39.9" fill="#FFCDD2"/>
<rect x="979" y="1202.0" width="14" height="37.7" fill="#FFCDD2"/>
<rect x="995" y="1202.0" width="14" height="35.0" fill="#FFCDD2"/>
<rect x="1011" y="1202.0" width="14" height="32.8" fill="#FFCDD2"/>
<rect x="1027" y="1202.0" width="14" height="24.7" fill="#FFCDD2"/>
<rect x="1042" y="1202.0" width="14" height="13.0" fill="#FFCDD2"/>
<rect x="1058" y="1202.0" width="14" height="2.7" fill="#FFCDD2"/>
<rect x="1074" y="1200.9" width="14" height="1.1" fill="#26A69A"/>
<rect x="1090" y="1201.4" width="14" height="0.8" fill="#B2DFDB"/>
<rect x="1106" y="1202.0" width="14" height="1.0" fill="#FF5252"/>
<rect x="1122" y="1202.0" width="14" height="2.9" fill="#FF5252"/>
<rect x="1137" y="1202.0" width="14" height="7.0" fill="#FF5252"/>
<rect x="1153" y="1202.0" width="14" height="13.8" fill="#FF5252"/>
<rect x="1169" y="1202.0" width="14" height="18.7" fill="#FF5252"/>
<rect x="1185" y="1202.0" width="14" height="22.8" fill="#FF5252"/>
<rect x="1201" y="1202.0" width="14" height="23.9" fill="#FF5252"/>
<rect x="1216" y="1202.0" width="14" height="27.9" fill="#FF5252"/>
<rect x="1232" y="1202.0" width="14" height="32.0" fill="#FF5252"/>
<rect x="1248" y="1202.0" width="14" height="31.5" fill="#FFCDD2"/>
<rect x="1264" y="1202.0" width="14" height="30.7" fill="#FFCDD2"/>
<rect x="1280" y="1202.0" width="14" height="26.9" fill="#FFCDD2"/>
<rect x="1296" y="1202.0" width="14" height="19.8" fill="#FFCDD2"/>
<rect x="1311" y="1202.0" width="14" height="11.9" fill="#FFCDD2"/>
<rect x="1327" y="1202.0" width="14" height="3.8" fill="#FFCDD2"/>
<rect x="1343" y="1199.0" width="14" height="3.0" fill="#26A69A"/>
<rect x="1359" y="1191.1" width="14" height="10.9" fill="#26A69A"/>
<rect x="1375" y="1190.0" width="14" height="12.0" fill="#26A69A"/>
<rect x="1391" y="1191.9" width="14" height="10.1" fill="#B2DFDB"/>
<rect x="1406" y="1191.1" width="14" height="10.9" fill="#26A69A"/>
<rect x="1422" y="1188.1" width="14" height="13.9" fill="#26A69A"/>
<rect x="1438" y="1191.9" width="14" height="10.1" fill="#B2DFDB"/>
<rect x="1454" y="1194.1" width="14" height="7.9" fill="#B2DFDB"/>
<rect x="1470" y="1196.0" width="14" height="6.0" fill="#B2DFDB"/>
<rect x="1486" y="1196.0" width="14" height="6.0" fill="#B2DFDB"/>
<rect x="1501" y="1196.0" width="14" height="6.0" fill="#B2DFDB"/>
<rect x="1517" y="1195.2" width="14" height="6.8" fill="#26A69A"/>
<rect x="1533" y="1191.9" width="14" height="10.1" fill="#26A69A"/>
<rect x="1549" y="1190.0" width="14" height="12.0" fill="#26A69A"/>
<rect x="1565" y="1193.0" width="14" height="9.0" fill="#B2DFDB"/>
<rect x="1580" y="1196.0" width="14" height="6.0" fill="#B2DFDB"/>
<rect x="1596" y="1197.1" width="14" height="4.9" fill="#B2DFDB"/>
<rect x="1612" y="1196.0" width="14" height="6.0" fill="#26A69A"/>
<rect x="1628" y="1196.0" width="14" height="6.0" fill="#26A69A"/>
<rect x="1644" y="1197.1" width="14" height="4.9" fill="#B2DFDB"/>
<rect x="1660" y="1197.1" width="14" height="4.9" fill="#26A69A"/>
<rect x="1675" y="1197.1" width="14" height="4.9" fill="#B2DFDB"/>
<rect x="1691" y="1195.2" width="14" height="6.8" fill="#26A69A"/>
<rect x="1707" y="1191.9" width="14" height="10.1" fill="#26A69A"/>
<rect x="1723" y="1188.1" width="14" height="13.9" fill="#26A69A"/>
<rect x="1739" y="1187.0" width="14" height="15.0" fill="#26A69A"/>
<rect x="1755" y="1185.9" width="14" height="16.1" fill="#26A69A"/>
<rect x="1770" y="1188.1" width="14" height="13.9" fill="#B2DFDB"/>
<rect x="1786" y="1188.1" width="14" height="13.9" fill="#26A69A"/>
<rect x="1802" y="1188.1" width="14" height="13.9" fill="#B2DFDB"/>
<rect x="1818" y="1190.0" width="14" height="12.0" fill="#B2DFDB"/>
<rect x="1834" y="1191.9" width="14" height="10.1" fill="#B2DFDB"/>
<rect x="1850" y="1191.1" width="14" height="10.9" fill="#26A69A"/>
<rect x="1865" y="1191.1" width="14" height="10.9" fill="#B2DFDB"/>
<rect x="1881" y="1191.9" width="14" height="10.1" fill="#B2DFDB"/>
<rect x="1897" y="1191.1" width="14" height="10.9" fill="#26A69A"/>
<rect x="1913" y="1188.1" width="14" height="13.9" fill="#26A69A"/>
<rect x="1929" y="1191.1" width="14" height="10.9" fill="#B2DFDB"/>
<rect x="1944" y="1193.0" width="14" height="9.0" fill="#B2DFDB"/>
<rect x="1960" y="1194.1" width="14" height="7.9" fill="#B2DFDB"/>
<rect x="1976" y="1197.1" width="14" height="4.9" fill="#B2DFDB"/>
<rect x="1992" y="1199.0" width="14" height="3.0" fill="#B2DFDB"/>
<rect x="2008" y="1199.0" width="14" height="3.0" fill="#B2DFDB"/>
<rect x="2024" y="1199.0" width="14" height="3.0" fill="#B2DFDB"/>
<rect x="2039" y="1202.0" width="14" height="1.0" fill="#FF5252"/>
<rect x="2055" y="1202.0" width="14" height="2.9" fill="#FF5252"/>
<rect x="2071" y="1202.0" width="14" height="1.9" fill="#FFCDD2"/>
<rect x="2087" y="1202.0" width="14" height="0.8" fill="#FFCDD2"/>
<rect x="2103" y="1202.0" width="14" height="1.0" fill="#FF5252"/>
<rect x="2119" y="1202.0" width="14" height="0.8" fill="#FFCDD2"/>
<rect x="2134" y="1202.0" width="14" height="1.0" fill="#FF5252"/>
<rect x="2150" y="1202.0" width="14" height="1.9" fill="#FF5252"/>
<rect x="2166" y="1202.0" width="14" height="2.9" fill="#FF5252"/>
<rect x="2182" y="1202.0" width="14" height="2.9" fill="#FF5252"/>
<rect x="2198" y="1202.0" width="14" height="4.8" fill="#FF5252"/>
<rect x="2213" y="1202.0" width="14" height="7.0" fill="#FF5252"/>
<rect x="2229" y="1202.0" width="14" height="8.1" fill="#FF5252"/>
<rect x="2245" y="1202.0" width="14" height="7.8" fill="#FF5252"/>
<rect x="2261" y="1202.0" width="14" height="7.8" fill="#FFCDD2"/>
<rect x="2277" y="1202.0" width="14" height="8.1" fill="#FF5252"/>
<rect x="2293" y="1202.0" width="14" height="3.8" fill="#FFCDD2"/>
<rect x="2308" y="1202.0" width="14" height="2.9" fill="#FFCDD2"/>
<rect x="2324" y="1202.0" width="14" height="5.9" fill="#FF5252"/>
<rect x="2340" y="1202.0" width="14" height="5.9" fill="#FFCDD2"/>
<path d="M20 1202H2558" stroke="#9598A1" stroke-width="2" stroke-dasharray="10 12" fill="none" stroke-opacity="0.9"/>
<polyline points="20.4,1184.0 36.1,1179.1 51.9,1171.0 67.7,1165.0 83.4,1159.0 99.5,1155.5 115.2,1149.2 131.0,1141.9 146.7,1134.8 162.8,1137.8 178.5,1135.9 194.3,1133.5 210.1,1133.5 226.1,1136.2 241.8,1132.4 257.6,1129.1 273.4,1126.4 289.4,1124.0 305.2,1113.9 320.9,1093.5 336.7,1081.3 352.4,1096.2 368.5,1104.9 384.2,1108.5 400.0,1116.6 416.0,1127.0 431.8,1137.8 447.6,1144.3 463.3,1152.0 479.1,1160.9 495.1,1165.3 510.9,1163.4 526.6,1156.0 542.4,1145.7 558.4,1139.2 574.2,1135.1 589.9,1122.1 605.7,1121.2 621.7,1122.3 637.5,1127.8 653.3,1128.0 669.0,1129.1 685.1,1124.2 700.8,1118.0 716.6,1111.2 732.3,1101.7 748.4,1094.3 764.1,1095.7 779.9,1097.9 795.7,1102.2 811.7,1107.9 827.4,1115.8 843.2,1121.5 859.0,1129.7 874.7,1147.9 890.8,1159.3 906.5,1181.8 922.3,1197.3 938.0,1203.0 954.1,1211.7 969.8,1220.7 985.6,1227.2 1001.4,1233.5 1017.4,1238.9 1033.2,1237.3 1048.9,1229.1 1064.7,1219.3 1080.7,1215.8 1096.5,1216.4 1112.2,1218.0 1128.0,1219.9 1144.0,1225.3 1159.8,1234.8 1175.5,1244.3 1191.3,1255.2 1207.3,1262.8 1223.1,1273.7 1238.9,1285.1 1254.6,1292.4 1270.4,1298.7 1286.4,1301.7 1302.2,1300.1 1317.9,1292.7 1333.7,1285.1 1349.7,1279.7 1365.5,1269.6 1381.2,1266.1 1397.0,1265.5 1413.0,1262.0 1428.8,1255.5 1444.6,1256.3 1460.3,1257.1 1476.4,1257.1 1492.1,1256.0 1507.9,1254.7 1523.6,1252.0 1539.7,1246.5 1555.4,1241.6 1571.2,1242.4 1587.0,1243.8 1603.0,1243.8 1618.8,1241.9 1634.5,1240.3 1650.3,1239.7 1666.0,1238.1 1682.1,1237.0 1697.8,1234.6 1713.6,1228.0 1729.3,1221.8 1745.4,1216.1 1761.1,1211.7 1776.9,1209.8 1792.7,1205.8 1808.7,1203.6 1824.5,1202.8 1840.2,1201.7 1856.0,1198.2 1872.0,1194.9 1887.8,1192.7 1903.5,1190.0 1919.3,1183.8 1935.3,1183.2 1951.1,1183.5 1966.8,1182.9 1982.6,1184.0 1998.4,1185.1 2014.4,1184.6 2030.2,1184.8 2045.9,1187.3 2061.7,1190.0 2077.7,1189.5 2093.5,1188.6 2109.2,1188.6 2125.0,1188.6 2141.0,1188.9 2156.8,1189.7 2172.6,1190.5 2188.3,1191.6 2204.3,1194.6 2220.1,1198.2 2235.9,1200.9 2251.6,1203.0 2267.7,1205.2 2283.4,1207.1 2299.2,1205.8 2314.9,1206.3 2331.0,1208.5 2346.7,1210.4" fill="none" stroke="#2962FF" stroke-width="2" stroke-linejoin="round"/>
<polyline points="20.4,1188.6 36.1,1186.5 51.9,1183.2 67.7,1179.1 83.4,1174.8 99.5,1171.0 115.2,1166.9 131.0,1162.0 146.7,1156.8 162.8,1152.8 178.5,1149.2 194.3,1146.0 210.1,1143.5 226.1,1141.9 241.8,1139.7 257.6,1137.8 273.4,1135.7 289.4,1133.5 305.2,1129.7 320.9,1122.1 336.7,1113.9 352.4,1110.4 368.5,1109.0 384.2,1109.0 400.0,1110.7 416.0,1113.9 431.8,1118.5 447.6,1123.4 463.3,1129.1 479.1,1135.7 495.1,1141.6 510.9,1145.7 526.6,1147.9 542.4,1147.3 558.4,1145.7 574.2,1143.8 589.9,1139.5 605.7,1135.7 621.7,1132.9 637.5,1131.8 653.3,1131.6 669.0,1130.8 685.1,1129.1 700.8,1126.7 716.6,1123.4 732.3,1118.8 748.4,1113.9 764.1,1110.4 779.9,1107.9 795.7,1106.8 811.7,1107.1 827.4,1108.8 843.2,1111.2 859.0,1114.7 874.7,1121.2 890.8,1129.4 906.5,1139.7 922.3,1151.4 938.0,1161.5 954.1,1171.5 969.8,1181.8 985.6,1191.4 1001.4,1200.1 1017.4,1207.1 1033.2,1213.1 1048.9,1216.1 1064.7,1216.6 1080.7,1216.6 1096.5,1216.6 1112.2,1216.9 1128.0,1217.4 1144.0,1219.1 1159.8,1222.6 1175.5,1227.0 1191.3,1232.7 1207.3,1238.9 1223.1,1246.0 1238.9,1253.9 1254.6,1261.5 1270.4,1268.8 1286.4,1275.6 1302.2,1279.9 1317.9,1282.9 1333.7,1283.8 1349.7,1282.9 1365.5,1281.0 1381.2,1278.3 1397.0,1275.6 1413.0,1272.6 1428.8,1269.1 1444.6,1266.6 1460.3,1264.7 1476.4,1263.4 1492.1,1261.7 1507.9,1260.4 1523.6,1258.8 1539.7,1256.0 1555.4,1253.0 1571.2,1251.1 1587.0,1249.5 1603.0,1248.4 1618.8,1247.1 1634.5,1245.7 1650.3,1244.6 1666.0,1243.3 1682.1,1242.2 1697.8,1240.8 1713.6,1238.4 1729.3,1234.8 1745.4,1231.0 1761.1,1227.2 1776.9,1223.7 1792.7,1220.2 1808.7,1216.9 1824.5,1214.2 1840.2,1211.7 1856.0,1209.0 1872.0,1206.3 1887.8,1203.6 1903.5,1200.9 1919.3,1197.3 1935.3,1194.6 1951.1,1192.2 1966.8,1190.8 1982.6,1189.5 1998.4,1188.4 2014.4,1187.6 2030.2,1187.0 2045.9,1187.0 2061.7,1187.6 2077.7,1187.8 2093.5,1188.1 2109.2,1188.1 2125.0,1188.1 2141.0,1188.1 2156.8,1188.6 2172.6,1188.9 2188.3,1189.5 2204.3,1190.5 2220.1,1192.2 2235.9,1194.1 2251.6,1196.0 2267.7,1197.9 2283.4,1199.5 2299.2,1200.9 2314.9,1202.0 2331.0,1203.3 2346.7,1204.9" fill="none" stroke="#FF0000" stroke-width="2.2" stroke-linejoin="round"/>
<text x="36.2" y="1109.0" font-size="24" fill="#131722" textLength="70.0" lengthAdjust="spacingAndGlyphs" stroke="#131722" stroke-width="0.45">MACD</text>
<text x="115.5" y="1109.0" font-size="24" fill="#131722" textLength="37.5" lengthAdjust="spacingAndGlyphs" stroke="#131722" stroke-width="0.45">(12,</text>
<text x="162.2" y="1109.0" font-size="24" fill="#131722" textLength="33.7" lengthAdjust="spacingAndGlyphs" stroke="#131722" stroke-width="0.45">26,</text>
<text x="204.9" y="1109.0" font-size="24" fill="#131722" textLength="65.5" lengthAdjust="spacingAndGlyphs" stroke="#131722" stroke-width="0.45">close,</text>
<text x="279.1" y="1109.0" font-size="24" fill="#131722" textLength="20.6" lengthAdjust="spacingAndGlyphs" stroke="#131722" stroke-width="0.45">9,</text>
<text x="307.4" y="1109.0" font-size="24" fill="#131722" textLength="56.2" lengthAdjust="spacingAndGlyphs" stroke="#131722" stroke-width="0.45">EMA,</text>
<text x="373.2" y="1109.0" font-size="24" fill="#131722" textLength="58.3" lengthAdjust="spacingAndGlyphs" stroke="#131722" stroke-width="0.45">EMA)</text>
<text x="446.5" y="1109.0" font-size="24" fill="#FFCDD2" textLength="76.0" lengthAdjust="spacingAndGlyphs" stroke="#FFCDD2" stroke-width="0.45">−28.13</text>
<text x="537.4" y="1109.0" font-size="24" fill="#2962FF" textLength="80.2" lengthAdjust="spacingAndGlyphs" stroke="#2962FF" stroke-width="0.45">−44.68</text>
<text x="632.6" y="1109.0" font-size="24" fill="#FF0000" textLength="75.8" lengthAdjust="spacingAndGlyphs" stroke="#FF0000" stroke-width="0.45">−16.55</text>
</g>
<path d="M19 54H2691M19 1372H2691M20 54V1372M2690 54V1372" stroke="#ECEEF4" stroke-width="2" fill="none"/>
<path d="M20 1068H2690" stroke="#E0E3EB" stroke-width="2" fill="none"/>
<text x="20.0" y="40.1" font-size="25" fill="#131722" textLength="207.7" lengthAdjust="spacingAndGlyphs" stroke="#131722" stroke-width="0.45">CryptoChartMagic</text>
<text x="234.6" y="40.1" font-size="25" fill="#131722" textLength="109.2" lengthAdjust="spacingAndGlyphs" stroke="#131722" stroke-width="0.45">published</text>
<text x="351.6" y="40.1" font-size="25" fill="#131722" textLength="28.1" lengthAdjust="spacingAndGlyphs" stroke="#131722" stroke-width="0.45">on</text>
<text x="387.0" y="40.1" font-size="25" fill="#131722" textLength="198.6" lengthAdjust="spacingAndGlyphs" stroke="#131722" stroke-width="0.45">TradingView.com,</text>
<text x="593.7" y="40.1" font-size="25" fill="#131722" textLength="40.4" lengthAdjust="spacingAndGlyphs" stroke="#131722" stroke-width="0.45">Oct</text>
<text x="642.2" y="40.1" font-size="25" fill="#131722" textLength="29.7" lengthAdjust="spacingAndGlyphs" stroke="#131722" stroke-width="0.45">19,</text>
<text x="680.6" y="40.1" font-size="25" fill="#131722" textLength="58.3" lengthAdjust="spacingAndGlyphs" stroke="#131722" stroke-width="0.45">2023</text>
<text x="748.0" y="40.1" font-size="25" fill="#131722" textLength="61.7" lengthAdjust="spacingAndGlyphs" stroke="#131722" stroke-width="0.45">14:53</text>
<text x="818.2" y="40.1" font-size="25" fill="#131722" textLength="47.8" lengthAdjust="spacingAndGlyphs" stroke="#131722" stroke-width="0.45">UTC</text>
<text x="2575.3" y="185.3" font-size="24" fill="#131722" textLength="95.5" lengthAdjust="spacingAndGlyphs" stroke="#131722" stroke-width="0.45">2800.00</text>
<text x="2575.3" y="287.4" font-size="24" fill="#131722" textLength="95.5" lengthAdjust="spacingAndGlyphs" stroke="#131722" stroke-width="0.45">2400.00</text>
<text x="2575.3" y="374.5" font-size="24" fill="#131722" textLength="95.5" lengthAdjust="spacingAndGlyphs" stroke="#131722" stroke-width="0.45">2100.00</text>
<text x="2575.3" y="440.5" font-size="24" fill="#131722" textLength="95.5" lengthAdjust="spacingAndGlyphs" stroke="#131722" stroke-width="0.45">1900.00</text>
<text x="2575.3" y="513.8" font-size="24" fill="#131722" textLength="95.5" lengthAdjust="spacingAndGlyphs" stroke="#131722" stroke-width="0.45">1700.00</text>
<text x="2575.3" y="665.1" font-size="24" fill="#131722" textLength="95.5" lengthAdjust="spacingAndGlyphs" stroke="#131722" stroke-width="0.45">1350.00</text>
<text x="2575.3" y="726.8" font-size="24" fill="#131722" textLength="95.5" lengthAdjust="spacingAndGlyphs" stroke="#131722" stroke-width="0.45">1230.00</text>
<text x="2575.3" y="793.8" font-size="24" fill="#131722" textLength="95.5" lengthAdjust="spacingAndGlyphs" stroke="#131722" stroke-width="0.45">1110.00</text>
<text x="2575.3" y="856.0" font-size="24" fill="#131722" textLength="95.5" lengthAdjust="spacingAndGlyphs" stroke="#131722" stroke-width="0.45">1010.00</text>
<text x="2575.3" y="924.5" font-size="24" fill="#131722" textLength="81.0" lengthAdjust="spacingAndGlyphs" stroke="#131722" stroke-width="0.45">910.00</text>
<text x="2575.3" y="985.1" font-size="24" fill="#131722" textLength="81.0" lengthAdjust="spacingAndGlyphs" stroke="#131722" stroke-width="0.45">830.00</text>
<text x="2575.3" y="1052.1" font-size="24" fill="#131722" textLength="81.0" lengthAdjust="spacingAndGlyphs" stroke="#131722" stroke-width="0.45">750.00</text>
<text x="2575.3" y="1135.5" font-size="24" fill="#131722" textLength="81.0" lengthAdjust="spacingAndGlyphs" stroke="#131722" stroke-width="0.45">400.00</text>
<text x="2575.3" y="1210.5" font-size="24" fill="#131722" textLength="51.5" lengthAdjust="spacingAndGlyphs" stroke="#131722" stroke-width="0.45">0.00</text>
<text x="2575.3" y="1284.2" font-size="24" fill="#131722" textLength="96.5" lengthAdjust="spacingAndGlyphs" stroke="#131722" stroke-width="0.45">−400.00</text>
<rect x="2566.5" y="62.5" width="115.5" height="51.5" rx="9" fill="#fff" stroke="#E6E8EF" stroke-width="1.3"/>
<text x="2584.5" y="95.7" font-size="24" fill="#131722" textLength="49.5" lengthAdjust="spacingAndGlyphs" stroke="#131722" stroke-width="0.45">USD</text>
<path d="M2558 545H2678a4 4 0 0 1 4 4V603a4 4 0 0 1 -4 4H2558Z" fill="#089981"/>
<text x="2575.5" y="569.5" font-size="24" fill="#fff" textLength="95.5" lengthAdjust="spacingAndGlyphs" stroke="#fff" stroke-width="0.3">1558.69</text>
<text x="2575.5" y="597.8" font-size="24" fill="#fff" textLength="78.0" lengthAdjust="spacingAndGlyphs" stroke="#fff" stroke-width="0.3" fill-opacity="0.75" stroke-opacity="0.75">3d 10h</text>
<text x="20.9" y="1353.8" font-size="24" fill="#131722" textLength="62.3" lengthAdjust="spacingAndGlyphs" font-weight="bold">2021</text>
<text x="237.7" y="1353.8" font-size="24" fill="#131722" textLength="40.6" lengthAdjust="spacingAndGlyphs" stroke="#131722" stroke-width="0.45">Apr</text>
<text x="447.6" y="1353.8" font-size="24" fill="#131722" textLength="32.8" lengthAdjust="spacingAndGlyphs" stroke="#131722" stroke-width="0.45">Jul</text>
<text x="649.4" y="1353.8" font-size="24" fill="#131722" textLength="41.3" lengthAdjust="spacingAndGlyphs" stroke="#131722" stroke-width="0.45">Oct</text>
<text x="843.0" y="1353.8" font-size="24" fill="#131722" textLength="63.9" lengthAdjust="spacingAndGlyphs" font-weight="bold">2022</text>
<text x="1060.7" y="1353.8" font-size="24" fill="#131722" textLength="40.6" lengthAdjust="spacingAndGlyphs" stroke="#131722" stroke-width="0.45">Apr</text>
<text x="1270.6" y="1353.8" font-size="24" fill="#131722" textLength="32.8" lengthAdjust="spacingAndGlyphs" stroke="#131722" stroke-width="0.45">Jul</text>
<text x="1472.3" y="1353.8" font-size="24" fill="#131722" textLength="41.3" lengthAdjust="spacingAndGlyphs" stroke="#131722" stroke-width="0.45">Oct</text>
<text x="1666.0" y="1353.8" font-size="24" fill="#131722" textLength="63.9" lengthAdjust="spacingAndGlyphs" font-weight="bold">2023</text>
<text x="1883.7" y="1353.8" font-size="24" fill="#131722" textLength="40.6" lengthAdjust="spacingAndGlyphs" stroke="#131722" stroke-width="0.45">Apr</text>
<text x="2093.6" y="1353.8" font-size="24" fill="#131722" textLength="32.8" lengthAdjust="spacingAndGlyphs" stroke="#131722" stroke-width="0.45">Jul</text>
<text x="2294.3" y="1353.8" font-size="24" fill="#131722" textLength="41.3" lengthAdjust="spacingAndGlyphs" stroke="#131722" stroke-width="0.45">Oct</text>
<text x="2489.1" y="1353.8" font-size="24" fill="#131722" textLength="63.9" lengthAdjust="spacingAndGlyphs" font-weight="bold">2024</text>
<path d="M20 1396.3H35.3V1415.4H27.5V1403.8H20Z" fill="#131722"/>
<circle cx="42.1" cy="1400.1" r="4" fill="#131722"/>
<path d="M50.1 1396.3H59.2L50.8 1415.4H42.1Z" fill="#131722"/>
<text x="67.2" y="1416.7" font-size="26.7" fill="#131722" textLength="148.0" lengthAdjust="spacingAndGlyphs" stroke="#131722" stroke-width="0.45">TradingView</text>
</svg></body></html>
